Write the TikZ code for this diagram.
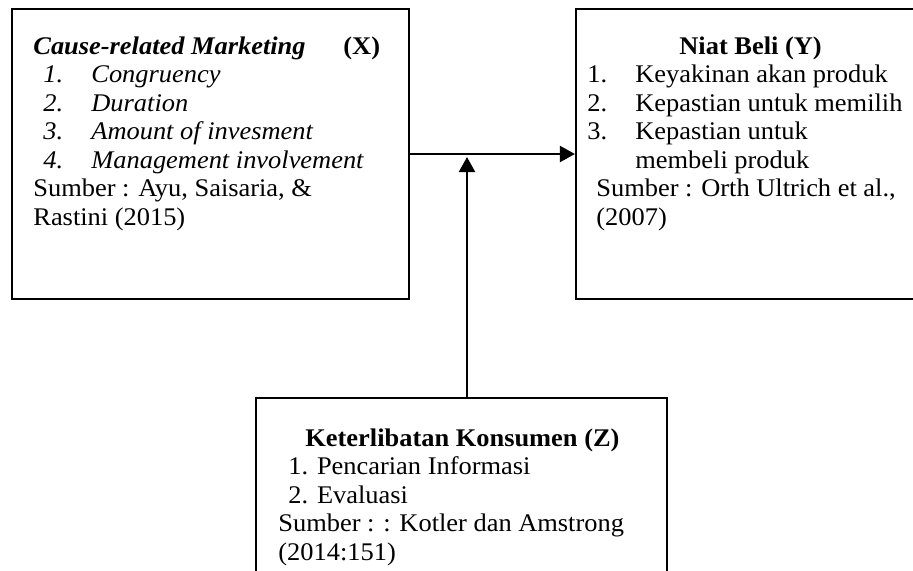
\documentclass[tikz,border=0pt]{standalone}
\usepackage{fontspec}
\setmainfont[FakeStretch=1.04]{Liberation Serif}
\usetikzlibrary{arrows.meta}

\begin{document}
\begin{tikzpicture}[x=0.5pt,y=-0.5pt,
  kotak/.style={draw,line width=1.1pt,inner sep=0pt},
  isi/.style={anchor=north west,align=left,inner sep=0pt,font=\fontsize{12.7}{14.25}\selectfont},
  panah/.style={line width=1.1pt,-{Triangle[length=7.5pt,width=8pt]}}]
\clip (0,0) rectangle (913,570); %ukuran gambar

% kotak variabel
\node[kotak,minimum width=198.5pt,minimum height=145pt] (kx) at (210.5,154) {}; %X
\node[kotak,minimum width=192pt,minimum height=145pt] (ky) at (768,154) {}; %Y
\node[kotak,minimum width=205.5pt,minimum height=111pt] (kz) at (461.5,509) {}; %Z

% isi kotak
\node[isi] (tx) at (33,36) {\makebox[155pt][l]{\textbf{\textit{Cause-related Marketing}}}\textbf{(X)}\\
\hspace*{5pt}\makebox[24pt][l]{\textit{1.}}\textit{Congruency}\\
\hspace*{5pt}\makebox[24pt][l]{\textit{2.}}\textit{Duration}\\
\hspace*{5pt}\makebox[24pt][l]{\textit{3.}}\textit{Amount of invesment}\\
\hspace*{5pt}\makebox[24pt][l]{\textit{4.}}\textit{Management involvement}\\
Sumber : Ayu, Saisaria, \&\\
Rastini (2015)};

\node[isi] (ty) at (587,36) {\hspace*{46pt}\textbf{Niat Beli (Y)}\\
\makebox[24pt][l]{1.}Keyakinan akan produk\\
\makebox[24pt][l]{2.}Kepastian untuk memilih\\
\makebox[24pt][l]{3.}Kepastian untuk\\
\hspace*{24pt}membeli produk\\
\hspace*{4.5pt}Sumber : Orth Ultrich et al.,\\
\hspace*{4.5pt}(2007)};

\node[isi] (tz) at (278,428) {\hspace*{13.5pt}\textbf{Keterlibatan Konsumen (Z)}\\
\hspace*{5pt}1. Pencarian Informasi\\
\hspace*{5pt}2. Evaluasi\\
Sumber : : Kotler dan Amstrong\\
(2014:151)};

% panah
\coordinate (temu) at (467,157); %ujung panah Z
\draw[panah] (kx.east) -- (ky.west);
\draw[panah] (kz.north -| temu) -- (temu);

\end{tikzpicture}
\end{document}
